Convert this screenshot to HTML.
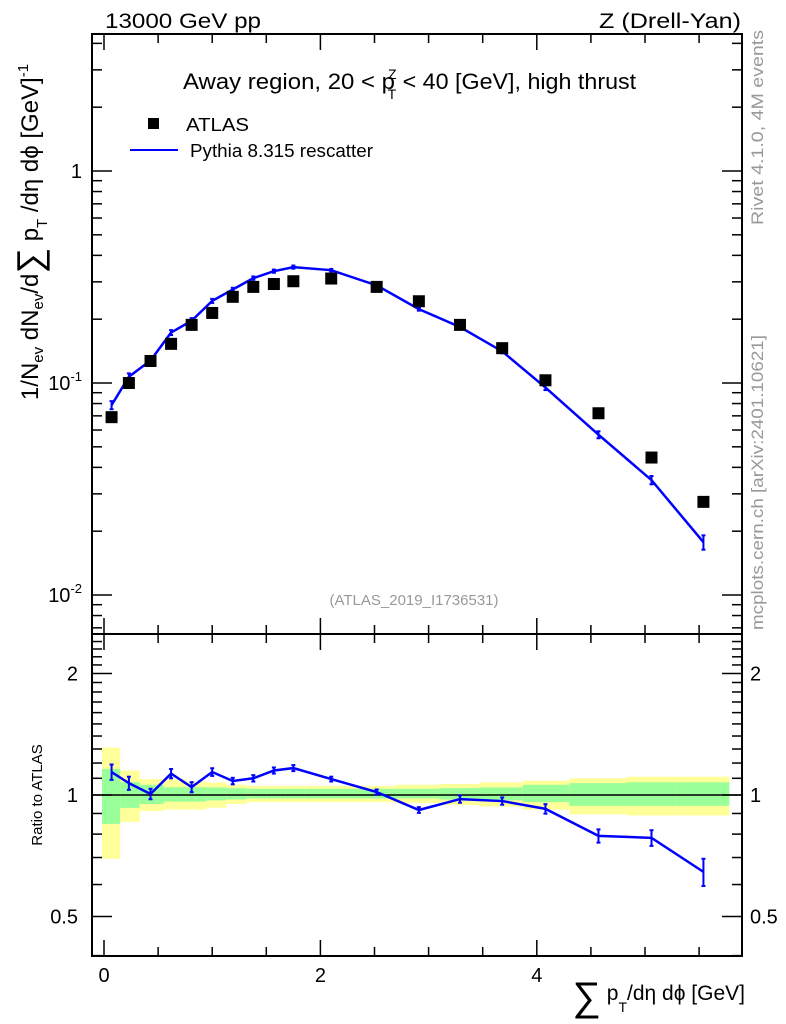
<!DOCTYPE html>
<html><head><meta charset="utf-8"><style>
body{margin:0;background:#fff;}
svg{display:block;font-family:"Liberation Sans",sans-serif;}
</style></head><body>
<svg id="c" width="786" height="1024" xmlns="http://www.w3.org/2000/svg">
<text x="105" y="28" font-size="21" textLength="156" lengthAdjust="spacingAndGlyphs">13000 GeV pp</text>
<text x="599" y="28" font-size="21" textLength="142" lengthAdjust="spacingAndGlyphs">Z (Drell-Yan)</text>
<text x="183" y="89" font-size="22"><tspan textLength="212" lengthAdjust="spacingAndGlyphs">Away region, 20 &lt; p</tspan><tspan font-size="14" dy="-10" dx="-7">Z</tspan><tspan font-size="14" dy="20" dx="-9">T</tspan><tspan dy="-10" textLength="240" lengthAdjust="spacingAndGlyphs"> &lt; 40 [GeV], high thrust</tspan></text>
<rect x="148" y="118" width="11" height="11" fill="#000"/>
<text x="186" y="131" font-size="18" textLength="63" lengthAdjust="spacingAndGlyphs">ATLAS</text>
<line x1="130" y1="150" x2="178" y2="150" stroke="#0000ff" stroke-width="2"/>
<text x="190" y="157" font-size="18" textLength="183" lengthAdjust="spacingAndGlyphs">Pythia 8.315 rescatter</text>
<text x="414" y="605" font-size="15" fill="#999" text-anchor="middle">(ATLAS_2019_I1736531)</text>
<text transform="translate(763,225) rotate(-90)" font-size="17" fill="#999" textLength="195" lengthAdjust="spacingAndGlyphs">Rivet 4.1.0,  4M events</text>
<text transform="translate(763,630) rotate(-90)" font-size="17" fill="#999" textLength="295" lengthAdjust="spacingAndGlyphs">mcplots.cern.ch [arXiv:2401.10621]</text>
<text transform="translate(38,232) rotate(-90)" font-size="24" text-anchor="middle">1/N<tspan font-size="15" dy="5">ev</tspan><tspan dy="-5"> dN</tspan><tspan font-size="15" dy="5">ev</tspan><tspan dy="-5">/d</tspan><tspan font-size="36" dy="4">∑</tspan><tspan dy="-4"> p</tspan><tspan font-size="15" dy="9">T</tspan><tspan dy="-9"> /dη dϕ  [GeV]</tspan><tspan font-size="15" dy="-10">-1</tspan></text>
<text transform="translate(42,795) rotate(-90)" font-size="15" text-anchor="middle">Ratio to ATLAS</text>
<text x="745" y="1000" font-size="21" text-anchor="end"><tspan font-size="40" dy="10">∑</tspan><tspan dy="-10"> p</tspan><tspan font-size="14" dy="12">T</tspan><tspan dy="-12">/dη dϕ [GeV]</tspan></text>
<g id="g"></g>
</svg>
<script>
const xEdges=[-0.02,0.15,0.33,0.55,0.75,0.95,1.13,1.32,1.50,1.68,1.85,2.33,2.70,3.10,3.47,3.87,4.30,4.83,5.29,5.78];
const xCenters=[0.07,0.23,0.43,0.62,0.81,1.00,1.19,1.38,1.57,1.75,2.10,2.52,2.91,3.29,3.68,4.08,4.57,5.06,5.54];
const dataVals=[0.069,0.100,0.127,0.153,0.188,0.214,0.255,0.284,0.293,0.302,0.311,0.284,0.243,0.188,0.146,0.103,0.072,0.0445,0.0275];
const ratioVals=[1.14,1.07,1.006,1.13,1.046,1.14,1.083,1.10,1.15,1.166,1.095,1.017,0.918,0.977,0.966,0.924,0.792,0.783,0.645];
const ratioErr=[0.05,0.04,0.03,0.03,0.03,0.025,0.02,0.02,0.02,0.02,0.015,0.015,0.015,0.02,0.02,0.025,0.03,0.035,0.05];
const yelHi=[1.31,1.15,1.095,1.095,1.08,1.074,1.06,1.053,1.053,1.053,1.053,1.053,1.06,1.065,1.075,1.085,1.10,1.11,1.11];
const yelLo=[0.695,0.858,0.913,0.92,0.92,0.93,0.95,0.96,0.96,0.96,0.96,0.96,0.955,0.945,0.936,0.92,0.895,0.89,0.89];
const grnHi=[1.16,1.076,1.06,1.045,1.045,1.044,1.04,1.036,1.036,1.036,1.036,1.036,1.036,1.04,1.044,1.06,1.07,1.075,1.075];
const grnLo=[0.848,0.929,0.95,0.963,0.963,0.97,0.975,0.98,0.98,0.98,0.98,0.98,0.98,0.975,0.97,0.96,0.94,0.94,0.94];
const xTicks=[0,2,4];
const yTicks=[1,0.1,0.01];
const rTicks=[2,1,0.5];

const L=92,R=742,T=34,MB=634,B=956;
const X=v=>104+v*108.2;
const Y=v=>171-Math.log10(v)*212;
const RY=v=>795-Math.log2(v)*121.5;
const g=document.getElementById('g');
const NS='http://www.w3.org/2000/svg';
function mk(t,a){const e=document.createElementNS(NS,t);for(const k in a)e.setAttribute(k,a[k]);g.appendChild(e);return e;}

for(let i=0;i<xCenters.length;i++){
  const x0=Math.max(X(xEdges[i]),L+10),x1=X(xEdges[i+1]);
  let e=mk('rect',{x:x0,y:RY(yelHi[i]),width:x1-x0,height:RY(yelLo[i])-RY(yelHi[i]),fill:'#ffff99'});
  
  
  e=mk('rect',{x:x0,y:RY(grnHi[i]),width:x1-x0,height:RY(grnLo[i])-RY(grnHi[i]),fill:'#99ff99'});
  
  
}
let e=mk('line',{x1:L,x2:R,y1:RY(1),y2:RY(1),stroke:'#000','stroke-width':1.5});



e=mk('rect',{x:L,y:T,width:R-L,height:MB-T,fill:'none',stroke:'#000','stroke-width':2});


e=mk('rect',{x:L,y:MB,width:R-L,height:B-MB,fill:'none',stroke:'#000','stroke-width':2});



for(let v=0;v<=5.9;v+=0.5){
  const maj=Math.abs(v%2)<1e-6, x=X(v), len=maj?16:9;
  for(const [y0,d] of [[T,1],[MB,-1],[MB,1],[B,-1]]){
    mk('line',{x1:x,x2:x,y1:y0,y2:y0+d*len,stroke:'#000','stroke-width':1.5});
  }
}
xTicks.forEach(v=>{const t=mk('text',{x:X(v),y:982,'font-size':20,'text-anchor':'middle'});t.textContent=v;

});

for(let d=-3;d<=0;d++)for(let m=1;m<=9;m++){
  const v=m*Math.pow(10,d),y=Y(v); if(y<T||y>MB)continue;
  const len=m==1?20:10;
  mk('line',{x1:L,x2:L+len,y1:y,y2:y,stroke:'#000','stroke-width':1.5});
  mk('line',{x1:R,x2:R-len,y1:y,y2:y,stroke:'#000','stroke-width':1.5});
}
yTicks.forEach(v=>{
  const y=Y(v);const t=mk('text',{x:82,y:y+7,'font-size':20,'text-anchor':'end'});
  if(v==1)t.textContent='1';else{t.innerHTML='10<tspan font-size="13" dy="-9">'+Math.round(Math.log10(v))+'</tspan>';}
  
  
});
[0.4,0.5,0.6,0.7,0.8,0.9,1,1.1,1.2,1.3,1.4,1.5,1.6,1.7,1.8,1.9,2,2.1,2.2,2.3,2.4].forEach(v=>{
  const y=RY(v); if(y<MB||y>B)return; const maj=[0.5,1,2].includes(v); const len=maj?20:10;
  mk('line',{x1:L,x2:L+len,y1:y,y2:y,stroke:'#000','stroke-width':1.5});
  mk('line',{x1:R,x2:R-len,y1:y,y2:y,stroke:'#000','stroke-width':1.5});
});
rTicks.forEach(v=>{
  let t=mk('text',{x:78,y:RY(v)+7,'font-size':20,'text-anchor':'end'});t.textContent=v;
  
  
  t=mk('text',{x:750,y:RY(v)+7,'font-size':20});t.textContent=v;
  
  
});

const mcVals=dataVals.map((d,i)=>d*ratioVals[i]);
let p=mk('polyline',{points:xCenters.map((x,i)=>X(x)+','+Y(mcVals[i])).join(' '),fill:'none',stroke:'#0000ff','stroke-width':2.5});


xCenters.forEach((x,i)=>{
  const hi=Y(mcVals[i]*(1+ratioErr[i]/ratioVals[i])),lo=Y(mcVals[i]*(1-ratioErr[i]/ratioVals[i]));
  mk('line',{x1:X(x),x2:X(x),y1:hi,y2:lo,stroke:'#0000ff','stroke-width':2});
  mk('line',{x1:X(x)-2,x2:X(x)+2,y1:hi,y2:hi,stroke:'#0000ff','stroke-width':2});
  mk('line',{x1:X(x)-2,x2:X(x)+2,y1:lo,y2:lo,stroke:'#0000ff','stroke-width':2});
});
xCenters.forEach((x,i)=>{
  const r=mk('rect',{x:X(x)-6,y:Y(dataVals[i])-6,width:12,height:12,fill:'#000'});
  
  
});
p=mk('polyline',{points:xCenters.map((x,i)=>X(x)+','+RY(ratioVals[i])).join(' '),fill:'none',stroke:'#0000ff','stroke-width':2.5});


xCenters.forEach((x,i)=>{
  const hi=RY(ratioVals[i]+ratioErr[i]),lo=RY(ratioVals[i]-ratioErr[i]);
  mk('line',{x1:X(x),x2:X(x),y1:hi,y2:lo,stroke:'#0000ff','stroke-width':2});
  mk('line',{x1:X(x)-2,x2:X(x)+2,y1:hi,y2:hi,stroke:'#0000ff','stroke-width':2});
  mk('line',{x1:X(x)-2,x2:X(x)+2,y1:lo,y2:lo,stroke:'#0000ff','stroke-width':2});
});
</script>
</body></html>
